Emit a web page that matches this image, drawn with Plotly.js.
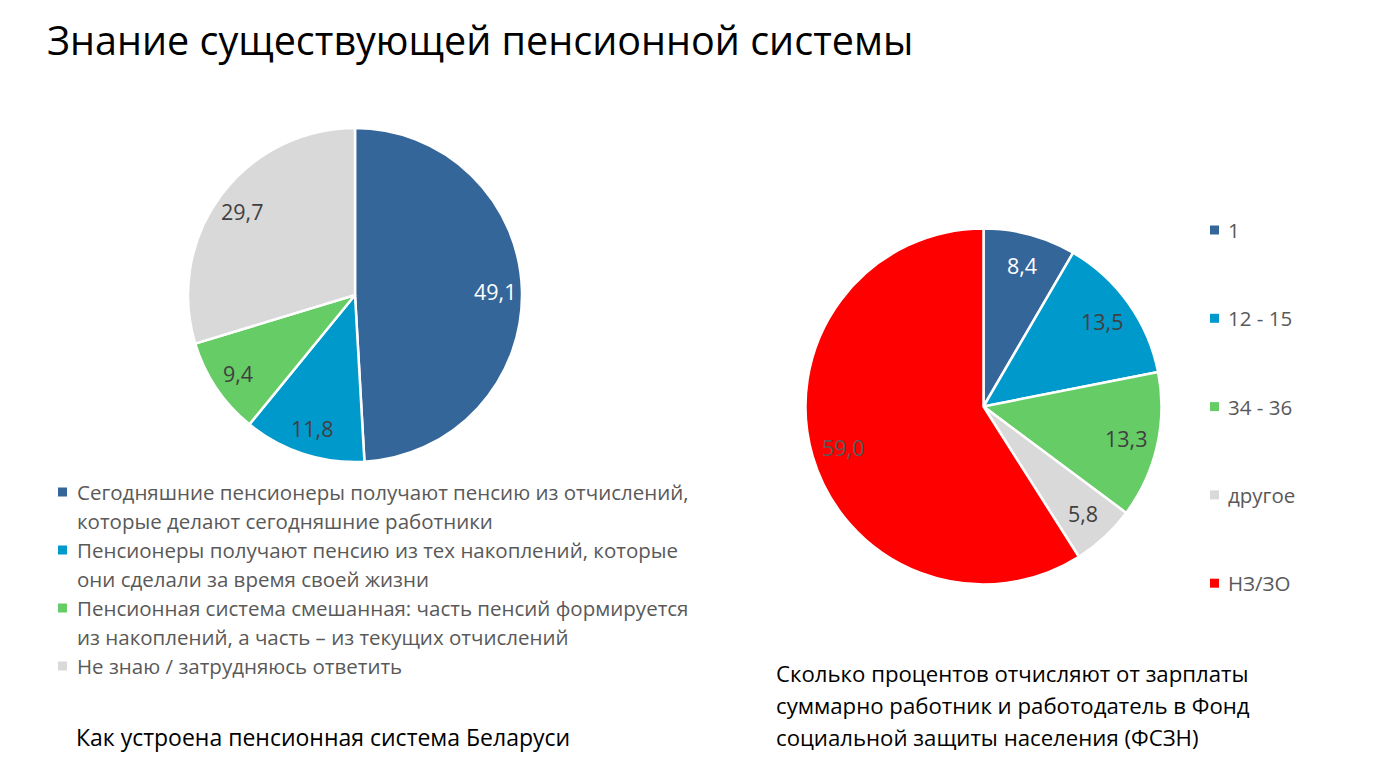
<!DOCTYPE html>
<html><head><meta charset="utf-8">
<script src="https://cdn.plot.ly/plotly-3.0.1.min.js"></script>
<style>html,body{margin:0;padding:0;background:#fff;}#chart{width:1389px;height:768px;}</style>
</head><body><div id="chart"></div>
<script>
const W = 1389, H = 768;
const titleText = 'Знание существующей пенсионной системы';

const leftLabels = [
  'Сегодняшние пенсионеры получают пенсию из отчислений,\nкоторые делают сегодняшние работники',
  'Пенсионеры получают пенсию из тех накоплений, которые\nони сделали за время своей жизни',
  'Пенсионная система смешанная: часть пенсий формируется\nиз накоплений, а часть – из текущих отчислений',
  'Не знаю / затрудняюсь ответить'
];
const leftValues = [49.1, 11.8, 9.4, 29.7];
const leftColors = ['#35669A', '#0099CC', '#66CC66', '#D9D9D9'];
const leftTextColors = ['#FFFFFF', '#404040', '#404040', '#404040'];
const leftCaption = 'Как устроена пенсионная система Беларуси';

const rightLabels = ['1', '12 - 15', '34 - 36', 'другое', 'НЗ/ЗО'];
const rightValues = [8.4, 13.5, 13.3, 5.8, 59.0];
const rightColors = ['#35669A', '#0099CC', '#66CC66', '#D9D9D9', '#FF0000'];
const rightTextColors = ['#FFFFFF', '#404040', '#404040', '#404040', '#595959'];
const rightCaption = ['Сколько процентов отчисляют от зарплаты', 'суммарно работник и работодатель в Фонд', 'социальной защиты населения (ФСЗН)'];

const FONT = 'Open Sans, Noto Sans, sans-serif';
const px = x => x / W;
const py = y => 1 - y / H;

const annotations = [];
const shapes = [];

function fmt(v) { return v.toFixed(1).replace('.', ','); }

function pieTrace(labels, values, colors, textColors, cx, cy, r, labelR) {
  // value labels placed along each slice's mid-angle (clockwise from 12 o'clock)
  const total = values.reduce((a, b) => a + b, 0);
  let cum = 0;
  values.forEach((v, i) => {
    const mid = (cum + v / 2) / total * 2 * Math.PI;
    cum += v;
    const lx = cx + Math.sin(mid) * r * labelR;
    const ly = cy - Math.cos(mid) * r * labelR;
    annotations.push({text: fmt(v), x: px(lx), y: py(ly), xref: 'paper', yref: 'paper', xanchor: 'center', yanchor: 'middle', showarrow: false, font: {family: FONT, size: 21.5, color: textColors[i]}});
  });
  return {
    type: 'pie', sort: false, direction: 'clockwise', rotation: 0,
    labels: labels.map(l => l.replace('\n', ' ')), values: values,
    marker: {colors: colors, line: {color: '#FFFFFF', width: 2.5}},
    textinfo: 'none', textposition: 'none',
    showlegend: false, hoverinfo: 'label+value',
    domain: {x: [px(cx - r), px(cx + r)], y: [py(cy + r), py(cy - r)]}
  };
}

const data = [
  pieTrace(leftLabels, leftValues, leftColors, leftTextColors, 355, 295, 167, 0.84),
  pieTrace(rightLabels, rightValues, rightColors, rightTextColors, 983.5, 406.5, 178, 0.82)
];

annotations.push({text: titleText, x: px(45), y: py(40), xref: 'paper', yref: 'paper', xanchor: 'left', yanchor: 'middle', showarrow: false, font: {family: FONT, size: 39.5, color: '#000'}});

// left legend
let line = 0;
leftLabels.forEach((lab, i) => {
  const parts = lab.split('\n');
  const y0 = 492 + line * 29;
  shapes.push({type: 'rect', xref: 'paper', yref: 'paper', x0: px(58), x1: px(67), y0: py(y0 + 4.5), y1: py(y0 - 4.5), fillcolor: leftColors[i], line: {width: 0}});
  parts.forEach(p => {
    annotations.push({text: p, x: px(75), y: py(492 + line * 29), xref: 'paper', yref: 'paper', xanchor: 'left', yanchor: 'middle', showarrow: false, font: {family: FONT, size: 20.5, color: '#595959'}});
    line++;
  });
});
// right legend
rightLabels.forEach((lab, i) => {
  const y0 = 230 + i * 88.3;
  shapes.push({type: 'rect', xref: 'paper', yref: 'paper', x0: px(1210), x1: px(1219), y0: py(y0 + 4.5), y1: py(y0 - 4.5), fillcolor: rightColors[i], line: {width: 0}});
  annotations.push({text: lab, x: px(1226), y: py(y0), xref: 'paper', yref: 'paper', xanchor: 'left', yanchor: 'middle', showarrow: false, font: {family: FONT, size: 20.5, color: '#595959'}});
});
annotations.push({text: leftCaption, x: px(74), y: py(737), xref: 'paper', yref: 'paper', xanchor: 'left', yanchor: 'middle', showarrow: false, font: {family: FONT, size: 23, color: '#000'}});
rightCaption.forEach((t, i) => {
  annotations.push({text: t, x: px(774), y: py(673 + i * 32), xref: 'paper', yref: 'paper', xanchor: 'left', yanchor: 'middle', showarrow: false, font: {family: FONT, size: 22.2, color: '#000'}});
});

Plotly.newPlot('chart', data, {
  width: W, height: H, margin: {l: 0, r: 0, t: 0, b: 0},
  paper_bgcolor: '#FFFFFF', separators: ', ',
  annotations: annotations, shapes: shapes, showlegend: false
}, {staticPlot: true});
</script></body></html>
